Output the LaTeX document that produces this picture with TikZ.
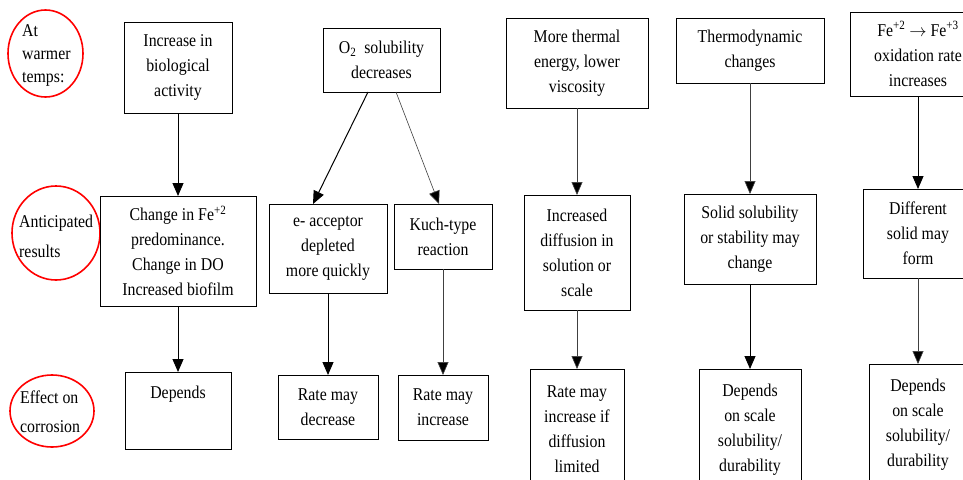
\documentclass[tikz,border=0pt]{standalone}
\usepackage{fontspec}
\setmainfont[FakeStretch=0.88]{Liberation Serif}
\usetikzlibrary{arrows.meta,shapes.geometric}
\tikzset{
  bx/.style={draw=black,line width=1pt,fill=white,align=center,inner sep=2pt,outer sep=0pt,
    font=\fontsize{18}{25}\selectfont},
  arr/.style={line width=1pt,-{Triangle[length=13pt,width=11pt]}},
  tarr/.style={line width=0.6pt,draw=black!75,-{Triangle[length=13pt,width=11pt,fill=black]}},
  ring/.style={draw=red,line width=1.6pt,ellipse,inner sep=0pt},
  lbl/.style={align=left,anchor=north west,inner sep=0pt,font=\fontsize{18}{23}\selectfont}
}
\newcommand{\mybox}[6]{\node[bx,minimum width={(#4)-(#2)},minimum height={(#5)-(#3)}] (#1) at ({((#2)+(#4))/2},{((#3)+(#5))/2}) {#6};}
\begin{document}
\begin{tikzpicture}[x=1pt,y=-1pt]
\clip (0,0) rectangle (963,479);
\fill[white] (0,0) rectangle (963,479);
% red rings
\node[ring,minimum width=75,minimum height=87] (r1) at (45.5,53.5) {};
\node[ring,minimum width=88,minimum height=94] (r2) at (56,233) {};
\node[ring,minimum width=84,minimum height=72] (r3) at (52,411) {};
\node[lbl] (l1) at (22,24) {At\\warmer\\temps:};
\node[lbl,font=\fontsize{18}{30}\selectfont] (l2) at (19,215) {Anticipated\\results};
\node[lbl,font=\fontsize{18}{29}\selectfont] (l3) at (20,391) {Effect on\\corrosion};
% row 1
\mybox{b1}{124}{22}{232}{113}{Increase in\\biological\\activity}
\mybox{b2}{323}{28}{440}{92}{O\textsubscript{2}\ \ solubility\\decreases}
\mybox{b3}{506}{18}{648}{108}{More thermal\\energy, lower\\viscosity}
\mybox{b4}{676}{18}{824}{83}{Thermodynamic\\changes}
\mybox{b5}{850}{12}{986}{96}{Fe\textsuperscript{+2} $\rightarrow$ Fe\textsuperscript{+3}\\oxidation rate\\increases}
% row 2
\mybox{b6}{100}{196}{256}{306}{Change in Fe\textsuperscript{+2}\\predominance.\\Change in DO\\Increased biofilm}
\mybox{b7}{269}{204}{387}{293}{e- acceptor\\depleted\\more quickly}
\mybox{b8}{394}{204}{492}{269}{Kuch-type\\reaction}
\mybox{b9}{524}{195}{630}{310}{Increased\\diffusion in\\solution or\\scale}
\mybox{b10}{684}{194}{816}{284}{Solid solubility\\or stability may\\change}
\mybox{b11}{863}{189}{973}{278}{Different\\solid may\\form}
% row 3
\node[bx,minimum width=106,minimum height=77,anchor=north,text height=16pt,text depth=41pt] (b12) at (178,372) {Depends};
\mybox{b13}{278}{375}{378}{439}{Rate may\\decrease}
\mybox{b14}{398}{375}{488}{440}{Rate may\\increase}
\mybox{b15}{530}{369}{624}{490}{Rate may\\increase if\\diffusion\\limited}
\mybox{b16}{699}{369}{801}{490}{Depends\\on scale\\solubility/\\durability}
\mybox{b17}{869}{364}{967}{485}{Depends\\on scale\\solubility/\\durability}
% arrows
\draw[arr] (b1.south) -- (b1.south |- b6.north);
\draw[arr] ([xshift=-13.5]b2.south) -- ([xshift=-15]b7.north);
\draw[tarr] ([xshift=14.5]b2.south) -- ([xshift=-4]b8.north);
\draw[tarr] (b3.south) -- (b3.south |- b9.north);
\draw[tarr] (b4.south) -- (b4.south |- b10.north);
\draw[arr] (b5.south) -- (b5.south |- b11.north);
\draw[arr] (b6.south) -- (b6.south |- b12.north);
\draw[arr] (b7.south) -- (b7.south |- b13.north);
\draw[tarr] (b8.south) -- (b8.south |- b14.north);
\draw[tarr] (b9.south) -- (b9.south |- b15.north);
\draw[arr] (b10.south) -- (b10.south |- b16.north);
\draw[tarr] (b11.south) -- (b11.south |- b17.north);
\end{tikzpicture}
\end{document}
